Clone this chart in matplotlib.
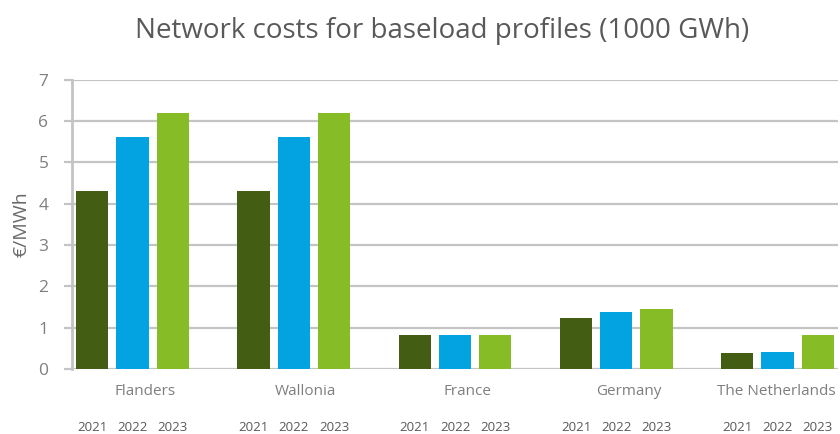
import numpy as np
import matplotlib
matplotlib.use("Agg")
import matplotlib.pyplot as plt

regions = ["Flanders", "Wallonia", "France", "Germany", "The Netherlands"]
years = ["2021", "2022", "2023"]
costs_2021 = [4.30, 4.30, 0.81, 1.23, 0.39]
costs_2022 = [5.62, 5.62, 0.82, 1.37, 0.40]
costs_2023 = [6.20, 6.20, 0.81, 1.45, 0.81]
colours = ["#435E13", "#02A3E0", "#86BC25"]

plt.rcParams["font.family"] = ["Open Sans", "DejaVu Sans"]

fig = plt.figure(figsize=(8.4, 4.34), dpi=100)
ax = fig.add_axes([0.0857, 0.150, 0.912, 0.666])

group_x = np.arange(len(regions)) * 4.0
for k, vals in enumerate([costs_2021, costs_2022, costs_2023]):
    ax.bar(group_x + (k - 1), vals, width=0.8, color=colours[k], zorder=3)

ax.set_xlim(-1.5, 17.5)
ax.set_ylim(0, 7)
ax.set_yticks(range(0, 8))
ax.yaxis.grid(True, color="#c4c4c4", linewidth=1.6, zorder=0)
ax.set_axisbelow(True)
for s in ["top", "right", "bottom"]:
    ax.spines[s].set_visible(False)
ax.spines["left"].set_color("#c4c4c4")
ax.spines["left"].set_linewidth(2)
ax.tick_params(axis="y", length=6, width=1.6, color="#c4c4c4",
               labelsize=12.5, labelcolor="#7f7f7f", pad=11)
ax.set_ylabel("€/MWh", fontsize=14, color="#6a6a6a", labelpad=6)

# region labels (last one pushed in so it stays inside the figure)
ax.set_xticks([])
for i, (gx, name) in enumerate(zip(group_x, regions)):
    last = i == len(regions) - 1
    ax.text(17.45 if last else gx + 0.3, -0.55, name,
            ha="right" if last else "center", va="center",
            fontsize=11, color="#7f7f7f", clip_on=False)

# year labels below each bar
for gx in group_x:
    for k, yr in enumerate(years):
        ax.text(gx + (k - 1), -1.42, yr, ha="center", va="center",
                fontsize=9.5, color="#595959", clip_on=False)

fig.text(0.526, 0.928, "Network costs for baseload profiles (1000 GWh)",
         ha="center", va="center", fontsize=20, color="#595959")

fig.savefig("out.png", dpi=100)
